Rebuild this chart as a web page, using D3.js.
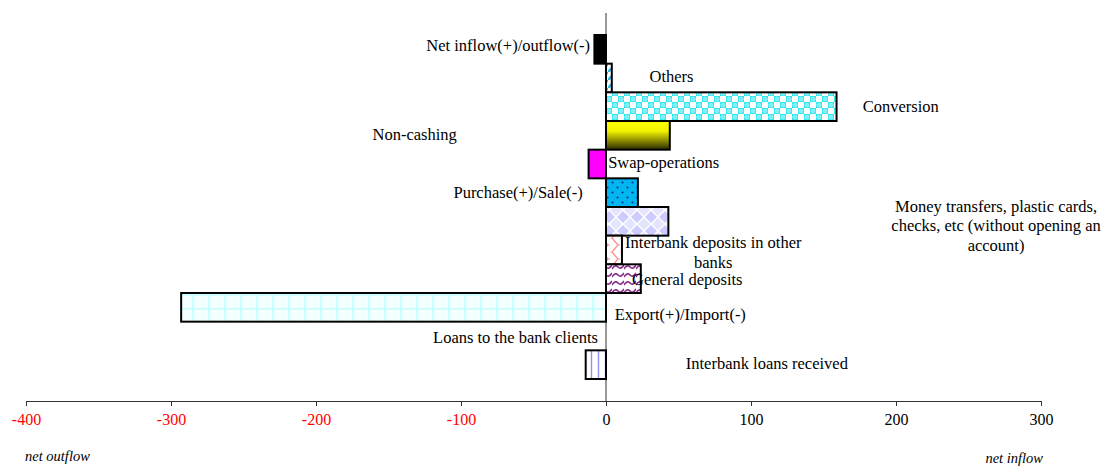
<!DOCTYPE html>
<html lang="en-US">
<head>
  <meta charset="UTF-8"/>
  <title>Net inflow / outflow by operation</title>
  <style>
    body { margin: 0; background: #fff; }
  </style>
</head>
<body>
<svg id="chart" width="1101" height="466" font-family="'Liberation Serif', 'Times New Roman', 'DejaVu Serif', serif"></svg>
<script src="https://cdn.jsdelivr.net/npm/d3@7"></script>
<script>

// data, top to bottom
var categories = [
  "Net inflow(+)/outflow(-)",
  "Others",
  "Conversion",
  "Non-cashing",
  "Swap-operations",
  "Purchase(+)/Sale(-)",
  "Money transfers, plastic cards, checks, etc (without opening an account)",
  "Interbank deposits in other banks",
  "General deposits",
  "Export(+)/Import(-)",
  "Loans to the bank clients",
  "Interbank loans received"
];
var values = [-8, 4, 159, 44, -12, 22, 43, 11, 24, -293, 0, -14];
var tickValues = [-400, -300, -200, -100, 0, 100, 200, 300];

// label text lines, kept apart from the values
var labelLines = [
  ["Net inflow(+)/outflow(-)"],
  ["Others"],
  ["Conversion"],
  ["Non-cashing"],
  ["Swap-operations"],
  ["Purchase(+)/Sale(-)"],
  ["Money transfers, plastic cards,", "checks, etc (without opening an", "account)"],
  ["Interbank deposits in other", "banks"],
  ["General deposits"],
  ["Export(+)/Import(-)"],
  ["Loans to the bank clients"],
  ["Interbank loans received"]
];

// layout for the labels: anchor x in axis units, anchor type, dy from row centre
var labelX  = [-11, 30, 177, -161, 1.5, -16, 269, 74, 18, 6, -5.5, 55];
var labelAn = ["end","start","start","start","start","end","middle","middle","start","start","end","start"];
var labelDy = [-4, -2, -1, -1, -2.5, -1, -15.5, -8, 0, 7, 1, -1.5];

var fills = ["#000", "url(#pOthers)", "url(#pConv)", "url(#gNonCash)", "#ff00ff", "url(#pPurch)",
             "url(#pMoney)", "url(#pIbDep)", "url(#pGenDep)", "url(#pExport)", "#fff", "url(#pIbLoan)"];

var FONT = "'Liberation Serif', 'Times New Roman', 'DejaVu Serif', serif";
var svg = d3.select("#chart");

var x = d3.scaleLinear().domain([-400, 300]).range([26, 1041]);
var y = d3.scaleBand().domain(categories).range([35, 379]).padding(0);
var axisY = 401;

// patterns
var defs = svg.append("defs");
function pat(id, w, h) {
  return defs.append("pattern").attr("id", id).attr("patternUnits", "userSpaceOnUse")
    .attr("width", w).attr("height", h);
}
var p;
p = pat("pOthers", 8, 8);
p.append("rect").attr("width", 8).attr("height", 8).attr("fill", "#fff");
p.append("path").attr("d", "M-2,10 L10,-2").attr("stroke", "#22b8e8").attr("stroke-width", 2.5);

p = pat("pConv", 12, 12);
p.append("rect").attr("width", 12).attr("height", 12).attr("fill", "#1fe6f0");
p.append("rect").attr("x", 0).attr("y", 0).attr("width", 6).attr("height", 6).attr("fill", "#fff");
p.append("rect").attr("x", 6).attr("y", 6).attr("width", 6).attr("height", 6).attr("fill", "#fff");
p.append("circle").attr("cx", 9).attr("cy", 3).attr("r", 2.6).attr("fill", "#7ef0f6");
p.append("circle").attr("cx", 3).attr("cy", 9).attr("r", 2.6).attr("fill", "#7ef0f6");

var g = defs.append("linearGradient").attr("id", "gNonCash")
  .attr("x1", 0).attr("y1", 0).attr("x2", 0).attr("y2", 1);
g.append("stop").attr("offset", "0%").attr("stop-color", "#ffff00");
g.append("stop").attr("offset", "35%").attr("stop-color", "#f2f200");
g.append("stop").attr("offset", "100%").attr("stop-color", "#2a2a00");

p = pat("pPurch", 10, 10);
p.append("rect").attr("width", 10).attr("height", 10).attr("fill", "#00b6f0");
p.append("circle").attr("cx", 2.5).attr("cy", 2.5).attr("r", 1.1).attr("fill", "#14308c");
p.append("circle").attr("cx", 7.5).attr("cy", 7.5).attr("r", 1.1).attr("fill", "#14308c");

p = pat("pMoney", 14, 14);
p.append("rect").attr("width", 14).attr("height", 14).attr("fill", "#fff");
p.append("path").attr("d", "M7,1 L13,7 L7,13 L1,7 Z").attr("fill", "#ccccff");
p.append("path").attr("d", "M0,-6 L6,0 L0,6 L-6,0 Z M14,-6 L20,0 L14,6 L8,0 Z M0,8 L6,14 L0,20 L-6,14 Z M14,8 L20,14 L14,20 L8,14 Z").attr("fill", "#e4e4ff");

p = pat("pIbDep", 10, 14);
p.append("rect").attr("width", 10).attr("height", 14).attr("fill", "#fff");
p.append("path").attr("d", "M2,0 L8,7 L2,14 M8,7 L10,7 M0,0 L2,0")
  .attr("stroke", "#ff8a8a").attr("stroke-width", 1.2).attr("fill", "none");

p = pat("pGenDep", 12, 8);
p.append("rect").attr("width", 12).attr("height", 8).attr("fill", "#fff");
p.append("path").attr("d", "M0,5 Q3,0 6,3 Q9,6 12,1")
  .attr("stroke", "#8a2a8a").attr("stroke-width", 1.6).attr("fill", "none");

p = pat("pExport", 16, 14);
p.append("rect").attr("width", 16).attr("height", 14).attr("fill", "#f4ffff");
p.append("path").attr("d", "M0,0.5 H16 M0.5,0 V14").attr("stroke", "#c2ffff").attr("stroke-width", 2);

p = pat("pIbLoan", 7, 10);
p.append("rect").attr("width", 7).attr("height", 10).attr("fill", "#fff");
p.append("path").attr("d", "M3.5,0 V10").attr("stroke", "#9090ff").attr("stroke-width", 1.4);

// zero line
svg.append("line")
  .attr("x1", x(0)).attr("x2", x(0)).attr("y1", 13).attr("y2", axisY)
  .attr("stroke", "#333").attr("stroke-width", 1);

// bars
svg.selectAll("rect.bar")
  .data(categories)
  .enter().append("rect")
    .attr("class", "bar")
    .attr("x", function(d, i) { return x(Math.min(0, values[i])); })
    .attr("y", function(d) { return y(d); })
    .attr("width", function(d, i) { return Math.abs(x(values[i]) - x(0)); })
    .attr("height", y.bandwidth())
    .attr("fill", function(d, i) { return fills[i]; })
    .attr("stroke", "#000")
    .attr("stroke-width", function(d, i) { return values[i] === 0 ? 0 : 2; });

// labels
categories.forEach(function(c, i) {
  var cy = y(c) + y.bandwidth() / 2 + labelDy[i];
  var t = svg.append("text")
    .attr("x", x(labelX[i]))
    .attr("y", cy)
    .attr("text-anchor", labelAn[i])
    .attr("dominant-baseline", "central")
    .attr("font-family", FONT)
    .attr("font-size", 16.5)
    .attr("fill", "#000");
  labelLines[i].forEach(function(line, k) {
    t.append("tspan").attr("x", x(labelX[i])).attr("dy", k === 0 ? 0 : 19.5).text(line);
  });
});

// x axis
var axis = d3.axisBottom(x).tickValues(tickValues).tickSize(5).tickSizeOuter(0).tickPadding(8)
  .tickFormat(function(d) { return String(d); });
var ax = svg.append("g").attr("transform", "translate(0," + axisY + ")").call(axis)
  .attr("font-family", FONT);
ax.select(".domain").attr("stroke", "#333");
ax.selectAll(".tick line").attr("stroke", "#333");
ax.selectAll(".tick text")
  .attr("font-size", 16)
  .attr("fill", function(d) { return d < 0 ? "#ff0000" : "#000"; });

svg.append("text").attr("x", 25).attr("y", 456).attr("dominant-baseline", "central")
  .attr("font-family", FONT)
  .attr("font-size", 14.5).attr("font-style", "italic").text("net outflow");
svg.append("text").attr("x", 1043).attr("y", 458).attr("dominant-baseline", "central")
  .attr("text-anchor", "end").attr("font-family", FONT)
  .attr("font-size", 14.5).attr("font-style", "italic").text("net inflow");

</script>
</body>
</html>
